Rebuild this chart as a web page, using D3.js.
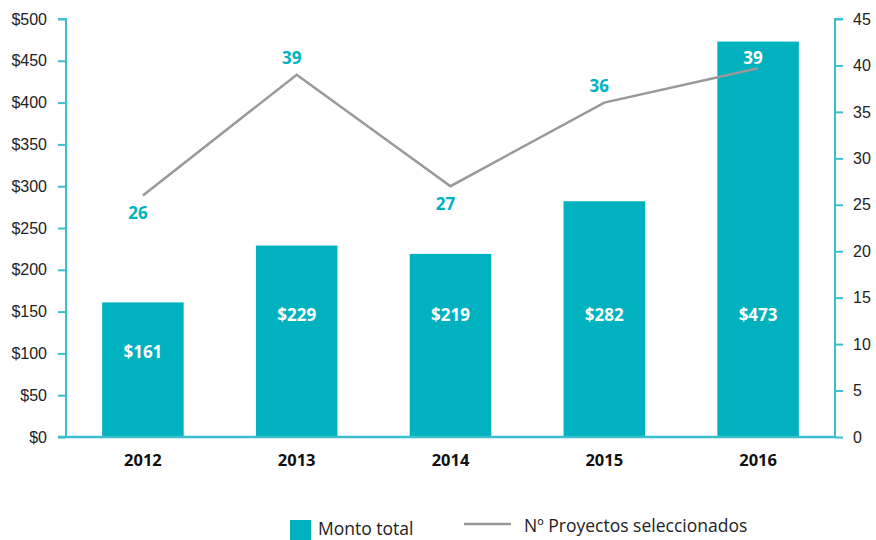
<!DOCTYPE html>
<html>
<head>
<meta charset="utf-8">
<script src="https://cdn.jsdelivr.net/npm/d3@7"></script>
<style>
  body { margin: 0; background: #fff; }
  svg { display: block; font-family: "Open Sans", "Noto Sans", sans-serif; }
</style>
</head>
<body>
<div id="chart"></div>
<script>
// Chart data.
const years = ['2012', '2013', '2014', '2015', '2016'];
const montoTotal = [161, 229, 219, 282, 473];
const proyectos = [26, 39, 27, 36, 39.7];
const proyectosLabels = ['26', '39', '27', '36', '39'];
const leftTicks = [0, 50, 100, 150, 200, 250, 300, 350, 400, 450, 500];
const rightTicks = [0, 5, 10, 15, 20, 25, 30, 35, 40, 45];

const width = 876, height = 540;
const plotLeft = 66, plotRight = 835, plotTop = 19, plotBottom = 437;

const barColor = '#00b2c0';
const axisColor = '#3cbfcc';
const lineColor = '#999999';

const svg = d3.select('#chart').append('svg')
    .attr('width', width)
    .attr('height', height);

// Scales
const x = d3.scaleBand().domain(years).range([plotLeft, plotRight])
    .paddingInner(0.47).paddingOuter(0.235);
const yLeft = d3.scaleLinear().domain([0, 500]).range([plotBottom, plotTop]);
const yRight = d3.scaleLinear().domain([0, 45]).range([plotBottom, plotTop]);

// Left axis
const leftAxis = svg.append('g')
    .attr('transform', `translate(${plotLeft},0)`)
    .call(d3.axisLeft(yLeft).tickValues(leftTicks).tickSize(8).tickPadding(11)
        .tickFormat(d => '$' + d));
leftAxis.select('.domain').attr('stroke', axisColor).attr('stroke-width', 2)
    .attr('d', `M-8,${plotTop}H0V${plotBottom}`);
leftAxis.selectAll('.tick line').attr('stroke', axisColor).attr('stroke-width', 2);
leftAxis.selectAll('.tick text').attr('fill', '#222').style('font-size', '16px');

// Right axis
const rightAxis = svg.append('g')
    .attr('transform', `translate(${plotRight},0)`)
    .call(d3.axisRight(yRight).tickValues(rightTicks).tickSize(8).tickPadding(10));
rightAxis.select('.domain').attr('stroke', axisColor).attr('stroke-width', 2)
    .attr('d', `M8,${plotTop}H0V${plotBottom}`);
rightAxis.selectAll('.tick line').attr('stroke', axisColor).attr('stroke-width', 2);
rightAxis.selectAll('.tick text').attr('fill', '#222').style('font-size', '16px');

// Bars
const data = years.map((year, i) => ({ year, monto: montoTotal[i], n: proyectos[i], label: proyectosLabels[i] }));

svg.selectAll('rect.bar')
    .data(data)
    .enter()
    .append('rect')
    .attr('class', 'bar')
    .attr('x', d => x(d.year))
    .attr('y', d => yLeft(d.monto))
    .attr('width', x.bandwidth())
    .attr('height', d => plotBottom - yLeft(d.monto))
    .attr('fill', barColor);

// Bottom baseline
svg.append('line')
    .attr('x1', plotLeft - 8).attr('x2', plotRight)
    .attr('y1', plotBottom).attr('y2', plotBottom)
    .attr('stroke', axisColor).attr('stroke-width', 2.5);

// Bar value labels
svg.selectAll('text.bar-label')
    .data(data)
    .enter()
    .append('text')
    .attr('class', 'bar-label')
    .attr('x', d => x(d.year) + x.bandwidth() / 2)
    .attr('y', d => Math.max(yLeft(d.monto) + 56, 321))
    .attr('text-anchor', 'middle')
    .attr('fill', '#fff')
    .style('font-size', '17px')
    .style('font-weight', 'bold')
    .text(d => '$' + d.monto);

// Category labels
svg.selectAll('text.year')
    .data(data)
    .enter()
    .append('text')
    .attr('class', 'year')
    .attr('x', d => x(d.year) + x.bandwidth() / 2)
    .attr('y', 466)
    .attr('text-anchor', 'middle')
    .attr('fill', '#111')
    .style('font-size', '16.5px')
    .style('font-weight', 'bold')
    .text(d => d.year);

// Line for number of projects
const line = d3.line()
    .x(d => x(d.year) + x.bandwidth() / 2)
    .y(d => yRight(d.n));

svg.append('path')
    .datum(data)
    .attr('d', line)
    .attr('fill', 'none')
    .attr('stroke', lineColor)
    .attr('stroke-width', 2.5);

// Line labels: below the point when the line dips, above otherwise
svg.selectAll('text.line-label')
    .data(data)
    .enter()
    .append('text')
    .attr('class', 'line-label')
    .attr('x', d => x(d.year) + x.bandwidth() / 2 - 5)
    .attr('y', (d, i) => (i === 0 || i === 2) ? yRight(+d.label) + 24 : yRight(+d.label) - 11)
    .attr('text-anchor', 'middle')
    .attr('fill', (d, i) => i === 4 ? '#fff' : barColor)
    .style('font-size', '17px')
    .style('font-weight', 'bold')
    .text(d => d.label);

// Legend
const legend = svg.append('g');
legend.append('rect')
    .attr('x', 290).attr('y', 520)
    .attr('width', 21).attr('height', 20)
    .attr('fill', barColor);
legend.append('text')
    .attr('x', 318).attr('y', 535)
    .attr('fill', '#222')
    .style('font-size', '17.5px')
    .text('Monto total');
legend.append('line')
    .attr('x1', 464).attr('x2', 511)
    .attr('y1', 524).attr('y2', 524)
    .attr('stroke', lineColor).attr('stroke-width', 2.5);
legend.append('text')
    .attr('x', 524).attr('y', 532)
    .attr('fill', '#222')
    .style('font-size', '17.5px')
    .text('Nº Proyectos seleccionados');
</script>
</body>
</html>
